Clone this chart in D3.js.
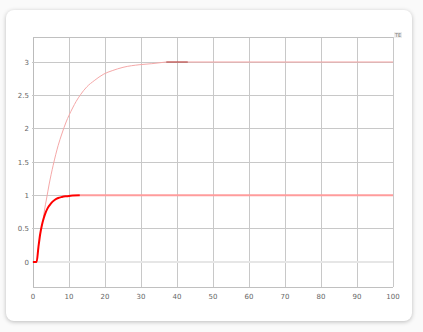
<!DOCTYPE html>
<html>
<head>
<meta charset="utf-8">
<script src="https://cdn.jsdelivr.net/npm/d3@7"></script>
<style>
  html, body { margin: 0; padding: 0; background: #fafafa; }
  #card {
    position: absolute; left: 6px; top: 10px; width: 406px; height: 311px;
    background: #fff; border-radius: 8px;
    box-shadow: 0 1px 4px rgba(0,0,0,0.25);
  }
  svg { position: absolute; left: 0; top: 0; }
</style>
</head>
<body>
<div id="card"></div>
<script>
// step responses
var fastT = [0, 1, 1.5, 2, 2.5, 3, 3.5, 4, 5, 6, 7, 8, 9, 10, 11, 13];
var fastY = [0, 0, 0.22, 0.42, 0.56, 0.66, 0.74, 0.8, 0.88, 0.93, 0.96, 0.975, 0.985, 0.99, 0.997, 1];
var fastTailT = [13, 100];
var fastTailY = [1, 1];

var slowT = [2.8, 3.2, 3.7, 4.5, 5.6, 7, 8, 9.2, 10, 11, 12, 13.2, 15, 17, 19.7, 22, 25, 29.7, 33, 37];
var slowY = [0.63, 0.78, 0.93, 1.17, 1.45, 1.75, 1.92, 2.1, 2.2, 2.31, 2.41, 2.51, 2.63, 2.72, 2.82, 2.87, 2.92, 2.96, 2.975, 3];
var markT = [37, 43];
var markY = [3, 3];
var slowTailT = [43, 100];
var slowTailY = [3, 3];

var xTicks = [0, 10, 20, 30, 40, 50, 60, 70, 80, 90, 100];
var yTicks = [0, 0.5, 1, 1.5, 2, 2.5, 3];

var width = 423,
  height = 332,
  padL = 33, padR = 393, padT = 37, padB = 287;

var svg = d3.select('body').append('svg')
  .attr('width', width)
  .attr('height', height);

var x = d3.scaleLinear().domain([0, 100]).range([padL, padR]);
var y = d3.scaleLinear().domain([-0.375, 3.375]).range([padB, padT]);

function pts(ts, ys) {
  return ts.map(function (t, i) { return [t, ys[i]]; });
}

var line = d3.line()
  .x(function (d) { return x(d[0]); })
  .y(function (d) { return y(d[1]); });

var curve = d3.line()
  .curve(d3.curveMonotoneX)
  .x(function (d) { return x(d[0]); })
  .y(function (d) { return y(d[1]); });

// grid
var grid = svg.append('g').attr('shape-rendering', 'crispEdges');

grid.selectAll('line.v')
  .data(xTicks)
  .enter()
  .append('line')
    .attr('x1', function (d) { return x(d); })
    .attr('x2', function (d) { return x(d); })
    .attr('y1', padT)
    .attr('y2', padB)
    .attr('stroke', function (d) { return d === 0 ? '#bbb' : '#c8c8c8'; })
    .attr('stroke-width', 1);

grid.selectAll('line.h')
  .data(yTicks)
  .enter()
  .append('line')
    .attr('x1', padL - 1)
    .attr('x2', padR)
    .attr('y1', function (d) { return y(d); })
    .attr('y2', function (d) { return y(d); })
    .attr('stroke', function (d) { return d === 0 ? '#e6e6e6' : '#c8c8c8'; })
    .attr('stroke-width', function (d) { return d === 0 ? 2 : 1; });

// frame top and bottom
grid.append('line')
  .attr('x1', padL).attr('x2', padR)
  .attr('y1', padT).attr('y2', padT)
  .attr('stroke', '#c0c0c0');
grid.append('line')
  .attr('x1', padL).attr('x2', padR)
  .attr('y1', padB).attr('y2', padB)
  .attr('stroke', '#c0c0c0');

// tick labels
svg.append('g')
  .selectAll('text')
  .data(yTicks)
  .enter()
  .append('text')
    .attr('x', padL - 4)
    .attr('y', function (d) { return y(d) + 2.5; })
    .attr('text-anchor', 'end')
    .attr('font-family', 'DejaVu Sans, sans-serif')
    .attr('font-size', '7px')
    .attr('fill', '#666')
    .text(function (d) { return d; });

svg.append('g')
  .selectAll('text')
  .data(xTicks)
  .enter()
  .append('text')
    .attr('x', function (d) { return x(d); })
    .attr('y', padB + 12)
    .attr('text-anchor', 'middle')
    .attr('font-family', 'DejaVu Sans, sans-serif')
    .attr('font-size', '7px')
    .attr('fill', '#666')
    .text(function (d) { return d; });

// little corner badge
svg.append('rect')
  .attr('x', padR + 1).attr('y', padT - 5)
  .attr('width', 8).attr('height', 6)
  .attr('fill', '#eee');
svg.append('text')
  .attr('x', padR + 5).attr('y', padT)
  .attr('text-anchor', 'middle')
  .attr('font-family', 'DejaVu Sans, sans-serif')
  .attr('font-size', '5px')
  .attr('fill', '#777')
  .text('TE');

// series
svg.append('path')
  .attr('d', line(pts(slowTailT, slowTailY)))
  .attr('fill', 'none')
  .attr('stroke', '#f4a3a3')
  .attr('stroke-width', 1.2);

svg.append('path')
  .attr('d', line(pts(markT, markY)))
  .attr('fill', 'none')
  .attr('stroke', '#c0504d')
  .attr('stroke-width', 1.3);

svg.append('path')
  .attr('d', curve(pts(slowT, slowY)))
  .attr('fill', 'none')
  .attr('stroke', '#f5a8a8')
  .attr('stroke-width', 1);

svg.append('path')
  .attr('d', line(pts(fastTailT, fastTailY)))
  .attr('fill', 'none')
  .attr('stroke', '#ff9c9c')
  .attr('stroke-width', 2);

svg.append('path')
  .attr('d', curve(pts(fastT, fastY)))
  .attr('fill', 'none')
  .attr('stroke', '#f00')
  .attr('stroke-width', 2);
</script>
</body>
</html>
